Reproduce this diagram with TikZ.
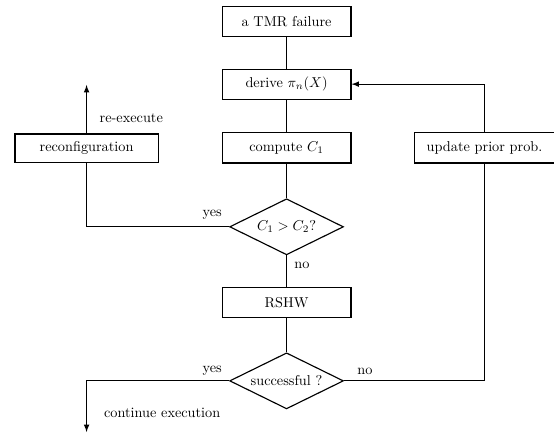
\documentclass[tikz,border=0pt]{standalone}
\usepackage{amsmath, amssymb}
\usepackage{tikz}
\usetikzlibrary{calc, shapes.geometric, positioning}

\begin{document}
\begin{tikzpicture}[>=latex, line width=0.8pt,
    box/.style={draw, rectangle, minimum width=3.17cm, minimum height=0.74cm, inner sep=2pt},
    decision/.style={draw, diamond, minimum width=2.8cm, minimum height=1.38cm, inner xsep=-1cm, inner ysep=-0.5cm},
    lbl/.style={inner sep=1pt}]
    \useasboundingbox (0,0) rectangle (13.63,-10.70);

    % 1. Cac khoi chinh tren truc giua
    \node[box] (tmr) at (7.05,-0.53) {a TMR failure};
    \node[box] (derive) at (7.05,-2.07) {derive $\pi_n(X)$};
    \node[box] (compute) at (7.05,-3.64) {compute $C_1$};
    \node[decision] (cmp) at (7.05,-5.58) {$C_1 > C_2$?};
    \node[box] (rshw) at (7.05,-7.45) {RSHW};
    \node[decision] (succ) at (7.05,-9.37) {successful ?};

    % 2. Hai khoi ben trai va ben phai
    \node[box, minimum width=3.52cm, minimum height=0.71cm] (reconf) at (2.13,-3.65) {reconfiguration};
    \node[box, minimum width=3.44cm] (update) at (11.92,-3.64) {update prior prob.};

    % Cac diem goc cua duong noi
    \coordinate (up) at (2.13,-2.09);
    \coordinate (down) at (2.13,-10.63);
    \coordinate (fb) at (11.96,-2.07);

    % 3. Duong noi giua cac khoi
    \foreach \a/\b in {tmr/derive, derive/compute, compute/cmp, cmp/rshw, rshw/succ}
        \draw (\a) -- (\b);

    % Nhanh yes cua C1 > C2
    \draw (cmp.west) -| (reconf.south);
    \draw[->] (reconf.north) -- (up);

    % Nhanh yes / no cua successful ?
    \draw[->] (succ.west) -| (down);
    \draw (succ.east) -| (update.south);
    \draw[->] (update.north |- fb) -- (derive.east);
    \draw (update.north) -- (update.north |- fb);

    % 4. Nhan
    \node[lbl] (reexec) at (3.23,-2.90) {re-execute};
    \node[lbl] (yes1) at (5.22,-5.29) {yes};
    \node[lbl] (no1) at (7.43,-6.52) {no};
    \node[lbl] (yes2) at (5.22,-9.13) {yes};
    \node[lbl] (no2) at (8.98,-9.13) {no};
    \node[lbl, anchor=west] (cont) at (2.51,-10.16) {continue execution};

\end{tikzpicture}
\end{document}
